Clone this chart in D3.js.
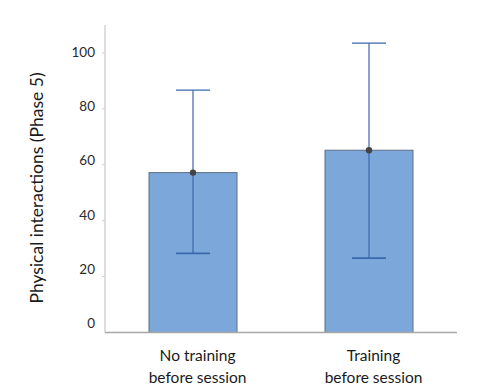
<!DOCTYPE html>
<html><head><meta charset="utf-8">
<script src="https://cdn.jsdelivr.net/npm/d3@7"></script>
<style>body{margin:0;background:#fff}svg{display:block}text{font-family:Lato,"Liberation Sans",Arial,sans-serif}</style>
</head><body>
<script>
const categories = [["No training","before session"],["Training","before session"]];
const means = [57.2, 65.2];
const upper = [86.7, 103.5];
const lower = [28.3, 26.6];
const yTicks = [0,20,40,60,80,100];
const yTitle = "Physical interactions (Phase 5)";

(function(){
const W=483,H=387, mLeft=105, mRight=457, mTop=25, mBottom=332.5;
const svg=d3.select("body").append("svg").attr("width",W).attr("height",H);
const x=d3.scaleBand().domain(d3.range(categories.length)).range([mLeft,mRight]).paddingInner(0.5).paddingOuter(0.25);
const y=d3.scaleLinear().domain([0,110]).range([mBottom,mTop]);
const yLab=d3.scaleLinear().domain([0,100]).range([323.5,52]);

svg.append("line").attr("x1",mLeft).attr("x2",mLeft).attr("y1",mTop).attr("y2",mBottom).attr("stroke","#c8c8c8").attr("stroke-width",1.2);
svg.selectAll(".yt").data(yTicks.filter(d=>d>0)).enter().append("line")
 .attr("x1",mLeft-3).attr("x2",mLeft).attr("y1",d=>y(d)).attr("y2",d=>y(d)).attr("stroke","#d0d0d0");
svg.selectAll(".yl").data(yTicks).enter().append("text")
 .attr("x",95).attr("y",d=>yLab(d)).attr("dy","0.35em").attr("text-anchor","end")
 .attr("font-size",13.5).attr("fill","#2a2a2a").text(d=>d);
svg.append("text").attr("transform",`translate(43,188) rotate(-90)`)
 .attr("text-anchor","middle").attr("font-size",17.5).attr("fill","#1a1a1a").text(yTitle);

svg.selectAll(".bar").data(means).enter().append("rect")
 .attr("x",(d,i)=>x(i)).attr("width",x.bandwidth()).attr("y",d=>y(d)).attr("height",d=>mBottom-y(d))
 .attr("fill","#7BA7DA").attr("stroke","#5f6f85").attr("stroke-width",1);

svg.append("line").attr("x1",mLeft).attr("x2",mRight).attr("y1",mBottom).attr("y2",mBottom).attr("stroke","#a8a8a8").attr("stroke-width",1.5);

const cx=i=>x(i)+x.bandwidth()/2;
const cap=17;
means.forEach((m,i)=>{
  const g=svg.append("g").attr("stroke","#3a68ad").attr("stroke-width",1.2);
  g.append("line").attr("x1",cx(i)).attr("x2",cx(i)).attr("y1",y(upper[i])).attr("y2",y(lower[i]));
  g.append("line").attr("x1",cx(i)-cap).attr("x2",cx(i)+cap).attr("y1",y(upper[i])).attr("y2",y(upper[i]));
  g.append("line").attr("x1",cx(i)-cap).attr("x2",cx(i)+cap).attr("y1",y(lower[i])).attr("y2",y(lower[i])).attr("stroke-width",1.6);
  svg.append("circle").attr("cx",cx(i)).attr("cy",y(m)).attr("r",3.2).attr("fill","#444");
});

categories.forEach((lines,i)=>{
  const t=svg.append("text").attr("text-anchor","middle").attr("font-size",15.5).attr("fill","#1a1a1a");
  lines.forEach((s,j)=>t.append("tspan").attr("x",cx(i)+4.5).attr("y",360.5+j*22).text(s));
});
})();
</script>
</body></html>
